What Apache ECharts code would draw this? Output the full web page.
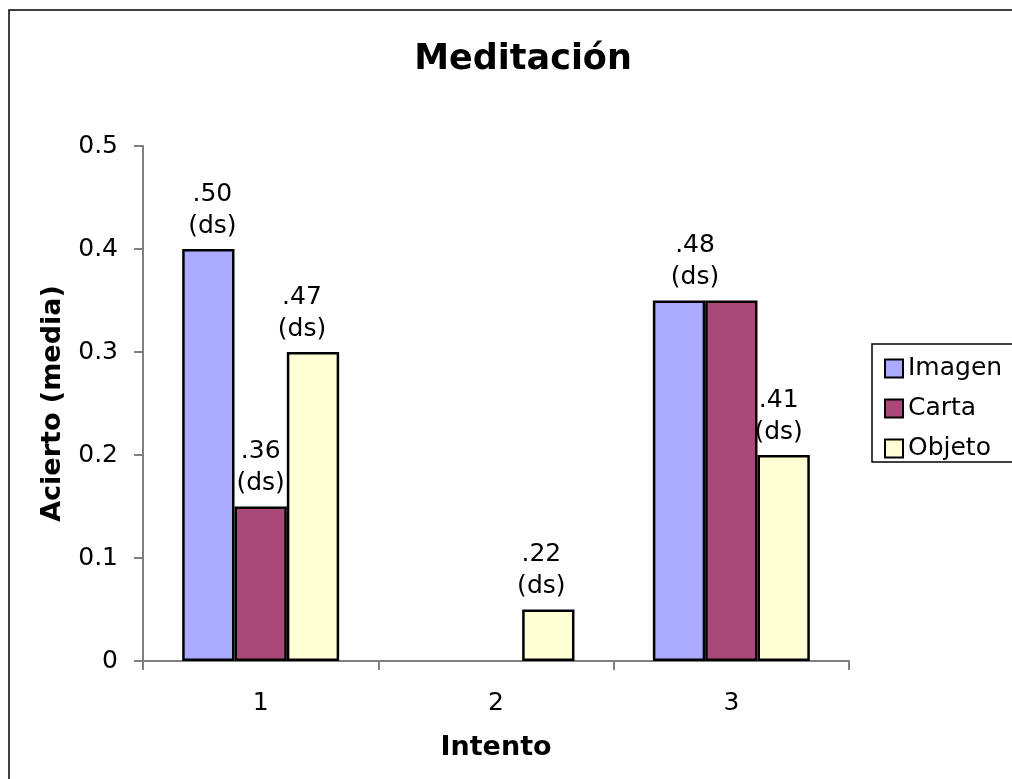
<!DOCTYPE html>
<html>
<head>
<meta charset="utf-8">
<script src="https://cdn.jsdelivr.net/npm/echarts@6/dist/echarts.min.js"></script>
<style>
html,body{margin:0;padding:0;background:#fff;}
#chart{width:1012px;height:779px;}
</style>
</head>
<body>
<div id="chart"></div>
<script>
const categories = ['1', '2', '3'];
const seriesNames = ['Imagen', 'Carta', 'Objeto'];
const imagen = [0.40, 0, 0.35];
const carta = [0.15, 0, 0.35];
const objeto = [0.30, 0.05, 0.20];
const imagenLabels = ['.50', '', '.48'];
const cartaLabels = ['.36', '', ''];
const objetoLabels = ['.47', '.22', '.41'];
const yTicks = ['0', '0.1', '0.2', '0.3', '0.4', '0.5'];

const colors = ['#aaaaff', '#a8497a', '#ffffd5'];
const labelShift = {
  Imagen: [4, 16, 16],
  Carta: [0, 0, 0],
  Objeto: [-11, -7, -5]
};
const FONT = 'DejaVu Sans';

function makeSeries(name, values, labels, color) {
  return {
    name: name,
    type: 'bar',
    barGap: '0%',
    barCategoryGap: '33.3%',
    itemStyle: { color: color, borderColor: '#000', borderWidth: 2.5 },
    data: values.map((v, i) => {
      const item = { value: v === 0 ? null : v };
      if (labels[i]) {
        item.label = {
          show: true,
          position: 'top',
          distance: 7,
          offset: [labelShift[name][i], 0],
          formatter: labels[i] + '\n(ds)',
          fontFamily: FONT,
          fontSize: 25,
          lineHeight: 32,
          color: '#000'
        };
      }
      return item;
    })
  };
}

const chart = echarts.init(document.getElementById('chart'));
chart.setOption({
  animation: false,
  backgroundColor: '#fff',
  color: colors,
  title: {
    text: 'Meditación',
    left: 518,
    textAlign: 'center',
    top: 37,
    textStyle: { fontFamily: FONT, fontSize: 35, fontWeight: 'bold', color: '#000' }
  },
  grid: { left: 143, right: 163, top: 146, bottom: 118 },
  legend: {
    orient: 'vertical',
    left: 879,
    top: 351,
    itemWidth: 18,
    itemHeight: 18,
    itemGap: 15,
    icon: 'rect',
    data: seriesNames,
    textStyle: { fontFamily: FONT, fontSize: 25, lineHeight: 25, color: '#000' }
  },
  xAxis: {
    type: 'category',
    data: categories,
    name: 'Intento',
    nameLocation: 'middle',
    nameGap: 73,
    nameTextStyle: { fontFamily: FONT, fontSize: 27, fontWeight: 'bold', color: '#000' },
    axisLine: { lineStyle: { color: '#808080', width: 2 } },
    axisTick: { show: true, length: 9, lineStyle: { color: '#808080', width: 2 } },
    axisLabel: { fontFamily: FONT, fontSize: 25, color: '#000', margin: 30 }
  },
  yAxis: {
    type: 'value',
    min: 0,
    max: 0.5,
    interval: 0.1,
    name: 'Acierto (media)',
    nameLocation: 'middle',
    nameGap: 77,
    nameTextStyle: { fontFamily: FONT, fontSize: 27, fontWeight: 'bold', color: '#000' },
    splitLine: { show: false },
    axisLine: { show: true, lineStyle: { color: '#808080', width: 2 } },
    axisTick: { show: true, length: 9, lineStyle: { color: '#808080', width: 2 } },
    axisLabel: {
      fontFamily: FONT, fontSize: 25, color: '#000', margin: 25,
      formatter: (v) => yTicks[Math.round(v * 10)]
    }
  },
  graphic: [
    {
      type: 'rect',
      shape: { x: 9, y: 10, width: 1100, height: 1000 },
      style: { fill: 'none', stroke: '#000', lineWidth: 1.5 },
      silent: true
    },
    {
      type: 'rect',
      shape: { x: 872, y: 344, width: 200, height: 118 },
      style: { fill: 'none', stroke: '#000', lineWidth: 1.5 },
      silent: true
    }
  ],
  series: [
    makeSeries('Imagen', imagen, imagenLabels, colors[0]),
    makeSeries('Carta', carta, cartaLabels, colors[1]),
    makeSeries('Objeto', objeto, objetoLabels, colors[2])
  ]
});
</script>
</body>
</html>
